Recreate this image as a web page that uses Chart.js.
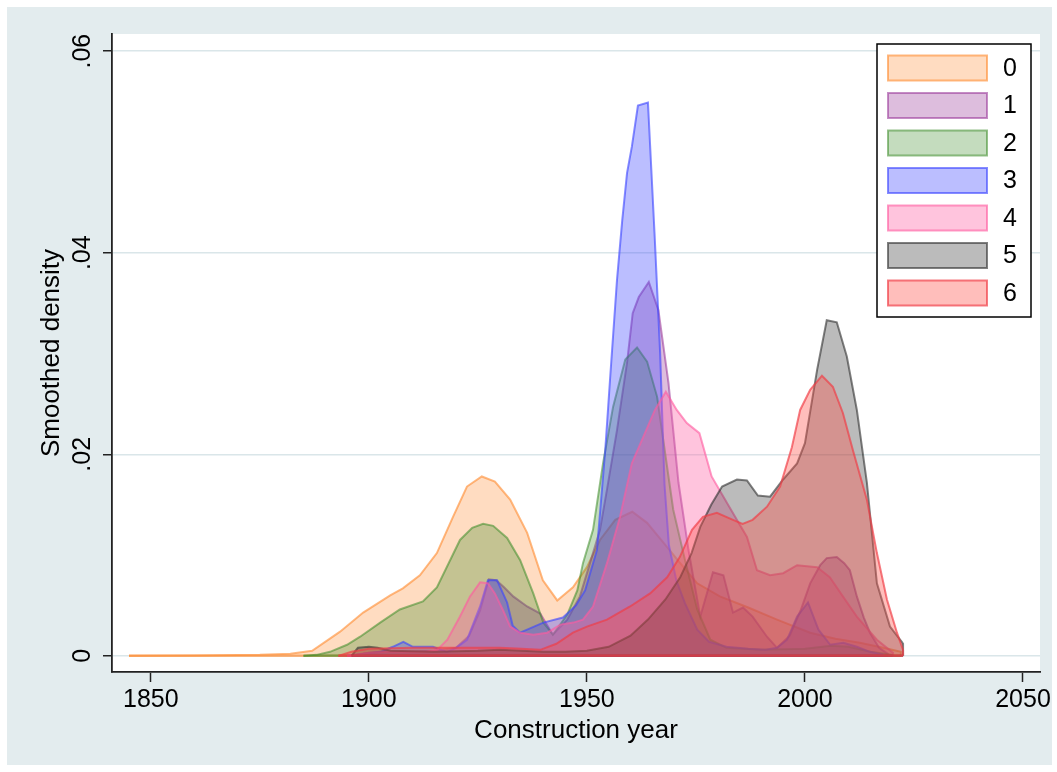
<!DOCTYPE html>
<html>
<head>
<meta charset="utf-8">
<script src="https://cdn.jsdelivr.net/npm/chart.js@4.4.1/dist/chart.umd.min.js"></script>
<style>
  html, body { margin: 0; padding: 0; background: #ffffff; }
  #wrap { width: 1057px; height: 772px; }
</style>
</head>
<body>
<div id="wrap"><canvas id="chart" width="1057" height="772"></canvas></div>
<script>
// Kernel density of construction year, one curve per group: [year, density]
const groupNames = ['0', '1', '2', '3', '4', '5', '6'];

const dens0 = [[1845,0],[1860,0.00003],[1875,0.0001],[1882,0.0002],[1887,0.0005],[1893.4,0.0024],[1898.7,0.0043],
  [1904.9,0.0060],[1907.8,0.0067],[1911.7,0.0080],[1915.6,0.0102],[1919.3,0.0138],[1922.5,0.0168],[1925.9,0.0178],
  [1928.9,0.0173],[1932.4,0.0155],[1936.3,0.0122],[1939.9,0.0075],[1943.2,0.0055],[1946.8,0.0068],[1950.0,0.0088],
  [1953.0,0.0115],[1956.5,0.0135],[1960.4,0.0143],[1963.8,0.0132],[1968.4,0.0108],[1971.4,0.0092],[1975.3,0.0072],
  [1980.5,0.0059],[1987,0.0048],[1993.6,0.0036],[2001.2,0.0023],[2007,0.0017],[2012.6,0.0013],[2018,0.0008],[2022,0.0004]];

const dens1 = [[1896,0],[1900,0.0003],[1905,0.0004],[1910,0.0004],[1915,0.0005],[1920,0.0008],[1923,0.0020],
  [1925.5,0.0045],[1927.5,0.0076],[1929.2,0.0075],[1931,0.0068],[1933.1,0.0059],[1936.3,0.0049],[1939.3,0.0042],
  [1942.2,0.0021],[1945.5,0.0036],[1948.4,0.0059],[1950.7,0.0092],[1953.0,0.0125],[1954.6,0.0165],[1956.9,0.0224],
  [1959.2,0.0291],[1960.5,0.0340],[1961.9,0.0356],[1964.2,0.0371],[1966.4,0.0343],[1968.7,0.0271],[1971.0,0.0172],
  [1973.3,0.0105],[1976.0,0.0039],[1978.9,0.0083],[1981.3,0.0080],[1983.5,0.0043],[1985.8,0.0048],[1988.0,0.0039],
  [1991.3,0.0019],[1993.6,0.0008],[1996.5,0.0020],[1999,0.0045],[2001.2,0.0072],[2003.5,0.0090],[2005.0,0.0097],
  [2007.3,0.0098],[2009,0.0092],[2010.3,0.0085],[2011.9,0.0059],[2013.5,0.0038],[2014.9,0.0023],[2017,0.0008],[2019,0.0002]];

const dens2 = [[1885,0],[1888,0.0001],[1891.1,0.0004],[1895,0.0011],[1898.0,0.0019],[1902.6,0.0033],[1907.1,0.0046],
  [1912.4,0.0054],[1915.6,0.0068],[1920.9,0.0115],[1923.7,0.0127],[1926.2,0.0131],[1928.5,0.0129],[1931.7,0.0117],
  [1934.7,0.0095],[1937.7,0.0062],[1940.0,0.0033],[1942.2,0.0021],[1945.5,0.0041],[1947.8,0.0065],[1949.1,0.0092],
  [1951.4,0.0125],[1953.7,0.0191],[1956.0,0.0247],[1958.8,0.0294],[1961.5,0.0306],[1963.8,0.0292],[1966.1,0.0257],
  [1969.8,0.0145],[1972.5,0.0095],[1975.3,0.0046],[1978.3,0.0016],[1982,0.0008],[1990,0.0006],[2000,0.0007],
  [2006,0.0010],[2010,0.0009],[2015,0.0004],[2020,0.0001]];

const dens3 = [[1895,0],[1899,0.0002],[1902.6,0.0004],[1905.5,0.0009],[1907.9,0.0014],[1910.1,0.0009],[1914.7,0.0009],
  [1917.9,0.0004],[1920,0.0008],[1922.5,0.0016],[1925.5,0.0049],[1927.3,0.0075],[1929.4,0.0075],[1931.7,0.0053],
  [1933.0,0.0030],[1934.7,0.0023],[1940.0,0.0033],[1944.5,0.0038],[1947.5,0.0050],[1949.6,0.0065],[1952.3,0.0105],
  [1954.2,0.0204],[1955.3,0.0274],[1956.9,0.0373],[1958.1,0.0432],[1959.2,0.0479],[1960.3,0.0505],[1961.7,0.0546],
  [1964.0,0.0549],[1965.5,0.0420],[1966.8,0.0300],[1967.8,0.0170],[1968.8,0.0110],[1970.5,0.0075],[1972.5,0.0052],
  [1975.3,0.0026],[1978,0.0014],[1982,0.0009],[1987,0.0007],[1991,0.0006],[1993.6,0.0008],[1995.9,0.0016],
  [1998.2,0.0039],[2000.7,0.0053],[2003.1,0.0026],[2005.8,0.0011],[2008.8,0.0013],[2011.9,0.0009],[2014.9,0.0004],[2018,0.0001]];

const dens4 = [[1895,0],[1900,0.0003],[1905,0.0004],[1910,0.0004],[1913,0.0004],[1915.7,0.0006],[1918.0,0.0016],
  [1920.9,0.0039],[1923.2,0.0059],[1925.5,0.0073],[1927.3,0.0072],[1928.9,0.0062],[1930.8,0.0045],[1932.4,0.0029],
  [1934.7,0.0023],[1937.7,0.0021],[1940.9,0.0023],[1943.9,0.0031],[1946.9,0.0033],[1949.1,0.0036],[1951.4,0.0049],
  [1954.6,0.0092],[1957.6,0.0138],[1960.3,0.0191],[1962.9,0.0217],[1965.6,0.0244],[1968.1,0.0262],[1970.6,0.0244],
  [1972.9,0.0231],[1975.8,0.0221],[1978.6,0.0178],[1982.1,0.0152],[1986.7,0.0118],[1989.0,0.0085],[1992.0,0.0080],
  [1995.0,0.0082],[1998.2,0.0090],[2002.8,0.0088],[2005.7,0.0078],[2008.7,0.0059],[2011.9,0.0039],[2016.5,0.0016],[2020.2,0.0003]];

const dens5 = [[1896,0],[1897.5,0.0008],[1900,0.0009],[1902,0.0008],[1905,0.0005],[1915,0.0004],[1925,0.0005],
  [1930,0.0006],[1935,0.0005],[1940,0.0004],[1945,0.0004],[1950,0.0005],[1955,0.0009],[1960,0.0020],[1964,0.0036],
  [1968,0.0056],[1971.4,0.0078],[1974,0.0102],[1976.0,0.0128],[1978.5,0.0150],[1981.0,0.0168],[1984.4,0.0175],
  [1986.7,0.0174],[1989.2,0.0159],[1992.0,0.0158],[1995.0,0.0175],[1998.2,0.0191],[2000.0,0.0211],[2002.8,0.0284],
  [2005.0,0.0333],[2007.3,0.0331],[2009.6,0.0297],[2011.9,0.0244],[2014.2,0.0172],[2016.5,0.0072],[2019.5,0.0029],
  [2022.2,0.0014],[2022.5,0.0012]];

const dens6 = [[1893,0],[1896,0.0004],[1900,0.0007],[1910,0.0008],[1920,0.0008],[1930,0.0008],[1935,0.0007],
  [1939.3,0.0006],[1943,0.0012],[1946.8,0.0023],[1950,0.0029],[1954.6,0.0036],[1959.9,0.0049],[1964.5,0.0062],
  [1968.4,0.0078],[1971.3,0.0098],[1974.1,0.0125],[1976.6,0.0138],[1979.8,0.0142],[1983.5,0.0135],[1985.7,0.0131],
  [1988.0,0.0135],[1991.3,0.0148],[1994.3,0.0168],[1997.0,0.0207],[1998.9,0.0244],[2001.2,0.0264],[2003.9,0.0278],
  [2006.4,0.0267],[2008.7,0.0241],[2011.0,0.0204],[2014.2,0.0155],[2016.5,0.0102],[2018.8,0.0056],[2021.1,0.0023],[2022.5,0.0006]];

const xTicks = [1850, 1900, 1950, 2000, 2050];
const xTickLabels = ['1850', '1900', '1950', '2000', '2050'];
const yTicks = [0, 0.02, 0.04, 0.06];
const yTickLabels = ['0', '.02', '.04', '.06'];
const xTitle = 'Construction year';
const yTitle = 'Smoothed density';

// Styles
const FONT = 'Helvetica, Arial, "Liberation Sans", sans-serif';
const fillColors = ['rgba(255,140,50,0.30)', 'rgba(150,50,150,0.32)', 'rgba(60,140,40,0.30)', 'rgba(60,70,255,0.35)',
  'rgba(255,100,165,0.38)', 'rgba(50,50,50,0.33)', 'rgba(255,80,70,0.37)'];
const lineColors = ['rgba(255,140,50,0.62)', 'rgba(150,50,150,0.55)', 'rgba(60,140,40,0.55)', 'rgba(60,70,255,0.62)',
  'rgba(255,90,160,0.62)', 'rgba(50,50,50,0.62)', 'rgba(240,60,70,0.68)'];

const allDens = [dens0, dens1, dens2, dens3, dens4, dens5, dens6];

// Each area is closed down to the zero line at both ends
function toPoints(d) {
  const pts = d.map(p => ({ x: p[0], y: p[1] }));
  if (pts[0].y !== 0) pts.unshift({ x: pts[0].x, y: 0 });
  const last = pts[pts.length - 1];
  if (last.y !== 0) pts.push({ x: last.x, y: 0 });
  return pts;
}

const datasets = allDens.map((d, i) => ({
  label: groupNames[i],
  data: toPoints(d),
  fill: 'origin',
  backgroundColor: fillColors[i],
  borderColor: lineColors[i],
  borderWidth: 2,
  pointRadius: 0,
  tension: 0,
  order: allDens.length - i
}));

const backgroundPlugin = {
  id: 'regionBackground',
  beforeDraw(chart) {
    const ctx = chart.ctx, a = chart.chartArea;
    ctx.save();
    ctx.fillStyle = '#ffffff';
    ctx.fillRect(0, 0, chart.width, chart.height);
    ctx.fillStyle = '#e3ecee';
    ctx.fillRect(7, 7, chart.width - 12, chart.height - 14);
    ctx.fillStyle = '#ffffff';
    ctx.fillRect(a.left, a.top, a.right - a.left, a.bottom - a.top);
    ctx.restore();
  }
};

// Outline along the zero line underneath each area
const baselinePlugin = {
  id: 'areaBaseline',
  afterDatasetDraw(chart, args) {
    const pts = args.meta.data;
    if (!pts.length) return;
    const ds = chart.data.datasets[args.index];
    const y0 = chart.scales.y.getPixelForValue(0);
    const ctx = chart.ctx, a = chart.chartArea;
    ctx.save();
    ctx.beginPath();
    ctx.rect(a.left, a.top, a.right - a.left, a.bottom - a.top);
    ctx.clip();
    ctx.strokeStyle = ds.borderColor;
    ctx.lineWidth = ds.borderWidth + 0.5;
    ctx.beginPath();
    ctx.moveTo(pts[0].x, y0);
    ctx.lineTo(pts[pts.length - 1].x, y0);
    ctx.stroke();
    ctx.restore();
  }
};

// Rotated labels on the vertical axis
const yLabelPlugin = {
  id: 'yTickText',
  afterDraw(chart) {
    const ctx = chart.ctx, ys = chart.scales.y;
    ctx.save();
    ctx.font = '25px ' + FONT;
    ctx.fillStyle = '#000';
    ctx.textAlign = 'center';
    ctx.textBaseline = 'alphabetic';
    yTicks.forEach((v, i) => {
      ctx.save();
      ctx.translate(ys.right - 22, ys.getPixelForValue(v));
      ctx.rotate(-Math.PI / 2);
      ctx.fillText(yTickLabels[i], 0, 0);
      ctx.restore();
    });
    ctx.restore();
  }
};

const legendPlugin = {
  id: 'boxLegend',
  afterDraw(chart) {
    const ctx = chart.ctx, a = chart.chartArea;
    const x0 = a.right - 163, y0 = a.top + 10, w = 154, h = 273;
    ctx.save();
    ctx.fillStyle = '#ffffff';
    ctx.fillRect(x0, y0, w, h);
    ctx.strokeStyle = '#000';
    ctx.lineWidth = 1.5;
    ctx.strokeRect(x0, y0, w, h);
    ctx.font = '25px ' + FONT;
    ctx.textAlign = 'left';
    ctx.textBaseline = 'middle';
    groupNames.forEach((name, i) => {
      const cy = y0 + 24 + i * 37.5;
      ctx.fillStyle = fillColors[i];
      ctx.fillRect(x0 + 11, cy - 12.5, 99, 25);
      ctx.strokeStyle = lineColors[i];
      ctx.lineWidth = 2;
      ctx.strokeRect(x0 + 11, cy - 12.5, 99, 25);
      ctx.fillStyle = '#000';
      ctx.fillText(name, x0 + 126, cy + 1);
    });
    ctx.restore();
  }
};

new Chart(document.getElementById('chart'), {
  type: 'line',
  data: { datasets },
  options: {
    responsive: false,
    devicePixelRatio: 1,
    animation: false,
    events: [],
    layout: { padding: { top: 34, right: 17, left: 0, bottom: 0 } },
    plugins: { legend: { display: false }, tooltip: { enabled: false } },
    scales: {
      x: {
        type: 'linear',
        min: 1841.1,
        max: 2053.9,
        afterBuildTicks(scale) { scale.ticks = xTicks.map(v => ({ value: v })); },
        afterFit(scale) { scale.height = 100; scale.paddingLeft = 0; scale.paddingRight = 0; },
        ticks: {
          color: '#000',
          font: { family: FONT, size: 25 },
          padding: 3,
          maxRotation: 0,
          callback: (v) => xTickLabels[xTicks.indexOf(v)] ?? ''
        },
        grid: { drawOnChartArea: false, drawTicks: true, tickLength: 10, tickColor: '#222', tickWidth: 1.5 },
        border: { display: true, color: '#222', width: 1.8 },
        title: { display: true, text: xTitle, color: '#000', font: { family: FONT, size: 26 }, padding: { top: 0, bottom: 26 } }
      },
      y: {
        type: 'linear',
        min: -0.0016,
        max: 0.0617,
        afterBuildTicks(scale) { scale.ticks = yTicks.map(v => ({ value: v })); },
        afterFit(scale) { scale.width = 112; scale.paddingTop = 0; scale.paddingBottom = 0; },
        ticks: { display: false },
        grid: { color: '#dae6e9', lineWidth: 1.5, drawTicks: true, tickLength: 9, tickColor: '#222', tickWidth: 1.5 },
        border: { display: true, color: '#222', width: 1.8 },
        title: { display: true, text: yTitle, color: '#000', font: { family: FONT, size: 26 }, padding: { top: 36, bottom: 0 } }
      }
    }
  },
  plugins: [backgroundPlugin, baselinePlugin, yLabelPlugin, legendPlugin]
});
</script>
</body>
</html>
